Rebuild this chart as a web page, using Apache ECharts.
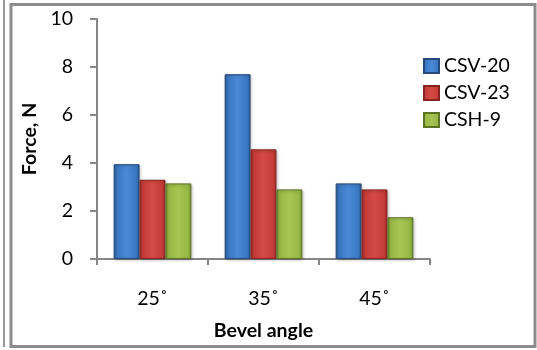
<!DOCTYPE html>
<html>
<head>
<meta charset="utf-8">
<script src="https://cdn.jsdelivr.net/npm/echarts@6/dist/echarts.min.js"></script>
<style>
  html, body { margin: 0; padding: 0; background: #fff; }
  #chart { width: 537px; height: 350px; }
</style>
</head>
<body>
<div id="chart"></div>
<script>
// Bevel angle categories and measured force per cutter
const categories = ['25˚', '35˚', '45˚'];
const csv20 = [3.95, 7.7, 3.15];
const csv23 = [3.3, 4.57, 2.9];
const csh9 = [3.15, 2.9, 1.74];
const yTicks = { min: 0, max: 10, interval: 2 };

const FONT = 'Lato, "Open Sans", sans-serif';

// horizontal gradient that darkens the bar edges for a bevelled look
function bevel(edge, face, light) {
  return {
    type: 'linear', x: 0, y: 0, x2: 1, y2: 0,
    colorStops: [
      { offset: 0, color: edge },
      { offset: 0.12, color: face },
      { offset: 0.5, color: light },
      { offset: 0.88, color: face },
      { offset: 1, color: edge }
    ]
  };
}

function barSeries(name, data, edge, face, light, border) {
  return {
    name: name,
    type: 'bar',
    data: data,
    barGap: '0%',
    barCategoryGap: '30%',
    itemStyle: {
      color: bevel(edge, face, light),
      borderColor: border,
      borderWidth: 1,
      shadowColor: 'rgba(0,0,0,0.25)',
      shadowBlur: 3,
      shadowOffsetX: 1,
      shadowOffsetY: 1
    }
  };
}

const chart = echarts.init(document.getElementById('chart'), null, { renderer: 'canvas' });

chart.setOption({
  animation: false,
  backgroundColor: '#ffffff',
  graphic: [
    // outer left rule
    { type: 'rect', shape: { x: 3, y: 0, width: 2, height: 347 }, style: { fill: '#9a9a9a' }, silent: true },
    // chart frame
    { type: 'rect', shape: { x: 11, y: 4.5, width: 524, height: 342 },
      style: { fill: 'none', stroke: '#8c8c8c', lineWidth: 3 }, silent: true }
  ],
  legend: {
    orient: 'vertical',
    left: 418,
    top: 51,
    itemWidth: 15,
    itemHeight: 14,
    itemGap: 7,
    icon: 'rect',
    textStyle: { fontFamily: FONT, fontSize: 19.5, color: '#000' },
    data: ['CSV-20', 'CSV-23', 'CSH-9']
  },
  grid: { left: 97, right: 107, top: 19, bottom: 91 },
  xAxis: {
    type: 'category',
    data: categories,
    name: 'Bevel angle',
    nameLocation: 'middle',
    nameGap: 62,
    nameTextStyle: { fontFamily: FONT, fontSize: 19.5, fontWeight: 'bold', color: '#000' },
    axisLine: { lineStyle: { color: '#868686', width: 2 } },
    axisTick: { show: true, length: 6, lineStyle: { color: '#868686', width: 2 } },
    axisLabel: { fontFamily: FONT, fontSize: 19.5, color: '#000', margin: 30 }
  },
  yAxis: {
    type: 'value',
    min: yTicks.min,
    max: yTicks.max,
    interval: yTicks.interval,
    name: 'Force, N',
    nameLocation: 'middle',
    nameGap: 57,
    nameRotate: 90,
    nameTextStyle: { fontFamily: FONT, fontSize: 19.5, fontWeight: 'bold', color: '#000' },
    splitLine: { show: false },
    axisLine: { show: true, lineStyle: { color: '#868686', width: 2 } },
    axisTick: { show: true, length: 7, lineStyle: { color: '#868686', width: 2 } },
    axisLabel: { fontFamily: FONT, fontSize: 19.5, color: '#000', margin: 24 }
  },
  series: [
    barSeries('CSV-20', csv20, '#2a568f', '#3a77c2', '#4a89d6', '#24497a'),
    barSeries('CSV-23', csv23, '#9a2a27', '#c63b37', '#d44a45', '#852421'),
    barSeries('CSH-9', csh9, '#6f8a2c', '#98b846', '#a6c552', '#5d7424')
  ],
  color: ['#3a77c2', '#c63b37', '#98b846']
});
</script>
</body>
</html>
